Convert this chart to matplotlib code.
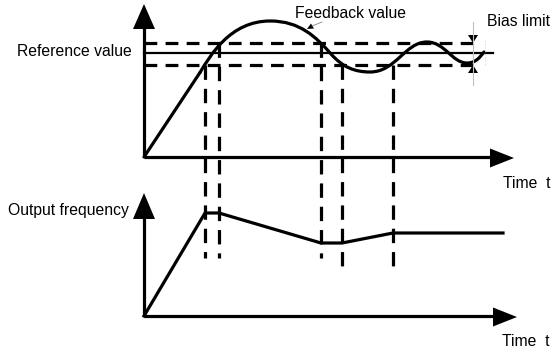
import matplotlib
matplotlib.use("Agg")
from matplotlib import pyplot as plt
from matplotlib.path import Path
from matplotlib.patches import PathPatch, Polygon

plt.rcParams['font.family'] = ['Liberation Sans', 'DejaVu Sans']

# levels of the top panel (pixel rows of the sketch)
ref_level = 53
upper_limit = 43
lower_limit = 65

# feedback value: straight ramp then bezier wobble (anchor / control points)
ramp_x = [144, 200]
ramp_y = [157, 72.5]
feedback_pts = [(200, 72.5),
                (210, 56), (230, 21), (270, 21),
                (300, 21), (316, 37), (331, 54),
                (343, 67.5), (355, 72), (370, 72),
                (396, 72), (405, 42), (427, 42),
                (445, 42), (452, 63), (467, 63),
                (476, 63), (480, 57), (484, 52)]

# instants where the feedback crosses the bias band
cross_x = [205, 219, 321, 342, 393]
cross_top = [65, 43, 43, 65, 65]
cross_bottom = [258, 258, 258, 266, 266]

# output frequency
out_x = [144, 205, 219, 321, 342, 393, 503]
out_y = [316, 213, 213, 243, 243, 233, 233]

fig = plt.figure(figsize=(5.55, 3.5), dpi=100)
ax = fig.add_axes([0, 0, 1, 1])
ax.set_xlim(0, 555)
ax.set_ylim(350, 0)
ax.axis('off')

lw = 2.3
k = 'black'

def arrow_up(x, tip, base):
    ax.add_patch(Polygon([(x, tip), (x - 11, base), (x + 11, base)], closed=True, color=k, lw=0))

def arrow_right(tip, y, base):
    ax.add_patch(Polygon([(tip, y), (base, y - 9.5), (base, y + 9.5)], closed=True, color=k, lw=0))

# top panel axes
ax.plot([144, 144], [157, 26], color=k, lw=lw, solid_capstyle='butt')
ax.plot([144, 492], [157, 157], color=k, lw=lw, solid_capstyle='butt')
arrow_up(144, 4, 29)
arrow_right(514, 158, 490)

# reference and bias band
ax.plot([144, 493], [ref_level, ref_level], color=k, lw=1.6)
ax.plot([144, 473], [upper_limit, upper_limit], color=k, lw=lw, ls=(0, (4, 2.6)))
ax.plot([144, 473], [lower_limit, lower_limit], color=k, lw=lw, ls=(0, (4, 2.6)))

# bias limit markers
ax.plot([473, 473], [22, 85], color='#c0c0c0', lw=0.8)
ax.plot([485, 485], [40, 66], color='#d8d8d8', lw=0.6, ls=(0, (2, 2)))
ax.add_patch(Polygon([(473, upper_limit), (468, 35), (478, 35)], closed=True, color=k, lw=0))
ax.add_patch(Polygon([(473, lower_limit), (468, 73), (478, 73)], closed=True, color=k, lw=0))

# feedback curve
ax.plot(ramp_x, ramp_y, color=k, lw=lw, solid_capstyle='round')
codes = [Path.MOVETO] + [Path.CURVE4] * (len(feedback_pts) - 1)
ax.add_patch(PathPatch(Path(feedback_pts, codes), fill=False, ec=k, lw=lw, capstyle='round'))

# feedback label leader
ax.plot([312, 322], [26, 22], color='#888888', lw=0.6)
ax.add_patch(Polygon([(307, 29), (311, 23.5), (314, 28.5)], closed=True, color=k, lw=0))

# crossing markers
for x, y0, y1 in zip(cross_x, cross_top, cross_bottom):
    ax.plot([x, x], [y0, y1], color=k, lw=lw, ls=(0, (4.5, 2.8)))

# bottom panel axes
ax.plot([144, 144], [316, 215], color=k, lw=lw, solid_capstyle='butt')
ax.plot([144, 494], [316, 316], color=k, lw=lw, solid_capstyle='butt')
arrow_up(144, 193, 219)
arrow_right(517, 317, 493)

ax.plot(out_x, out_y, color=k, lw=lw, solid_joinstyle='miter')

fs = 11.3
ax.text(295, 13, 'Feedback value', fontsize=fs, va='center', ha='left')
ax.text(17, 51, 'Reference value', fontsize=fs, va='center', ha='left')
ax.text(487, 22, 'Bias limit', fontsize=fs, va='center', ha='left')
ax.text(503, 184, 'Time  t', fontsize=fs, va='center', ha='left')
ax.text(8, 210, 'Output frequency', fontsize=fs, va='center', ha='left')
ax.text(502, 341, 'Time  t', fontsize=fs, va='center', ha='left')

fig.savefig('out.png', dpi=100)
